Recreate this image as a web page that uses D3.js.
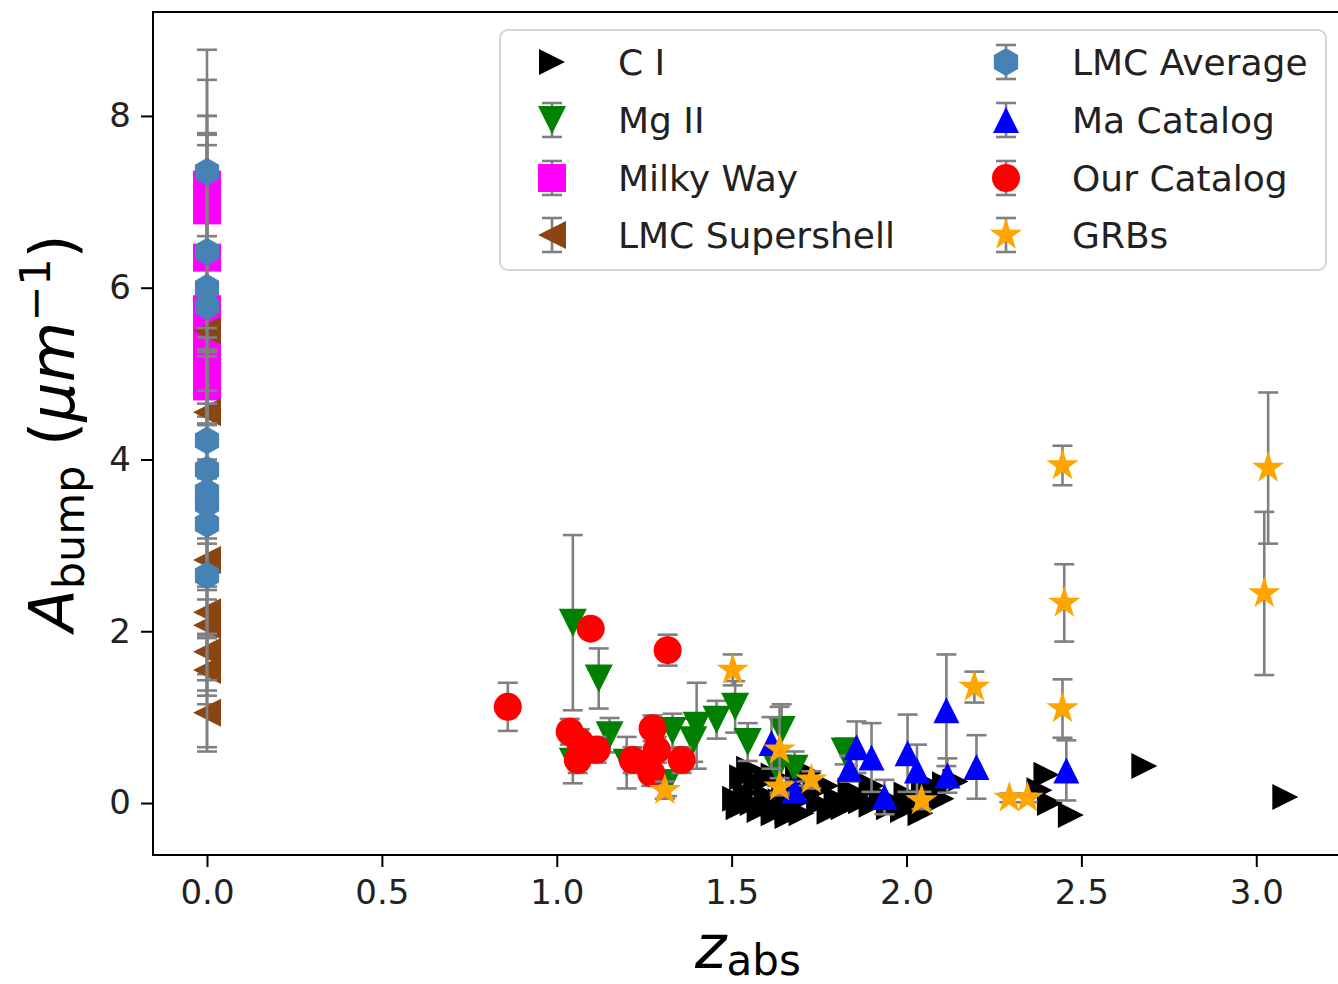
<!DOCTYPE html>
<html>
<head>
<meta charset="utf-8">
<script src="https://cdn.jsdelivr.net/npm/d3@7"></script>
<style>
  body { margin: 0; background: #fff; }
  text { font-family: 'DejaVu Sans', sans-serif; }
</style>
</head>
<body>
<div id="chart"></div>
<script>
// ---- data ----
const ciZ = [1.51, 1.52, 1.54, 1.56, 1.55, 1.58, 1.60, 1.62, 1.64, 1.66, 1.68, 1.71, 1.74, 1.77, 1.80, 1.82, 1.84, 1.87, 1.90, 1.93, 1.96, 1.99, 2.02, 2.05, 2.08, 2.11, 2.14, 1.62, 1.72,
  1.53, 1.57, 1.60, 1.65, 1.69, 1.75, 1.78, 1.86, 1.90, 1.95, 2.00, 2.04, 2.10, 1.62, 1.66, 1.70,
  2.40, 2.38, 2.41, 2.47, 2.68, 3.083]
const ciA = [0.05, -0.05, 0.12, 0.0, 0.40, -0.08, 0.08, -0.12, 0.02, -0.10, 0.0, 0.12, 0.25, 0.20, 0.05, -0.05, 0.15, 0.02, -0.02, 0.08, 0.0, -0.08, 0.02, 0.15, 0.18, 0.22, 0.25, 0.32, 0.35,
  0.30, 0.25, 0.30, 0.15, 0.30, 0.0, -0.10, 0.10, 0.20, -0.05, 0.10, -0.12, 0.05, -0.02, -0.15, -0.12,
  0.33, 0.15, 0.0, -0.14, 0.43, 0.07]

const mg2Z = [1.046, 1.12, 1.151, 1.046, 1.20, 1.315, 1.331, 1.40, 1.39, 1.457, 1.51, 1.546, 1.643, 1.63, 1.68, 1.823]
const mg2A = [2.10, 1.45, 0.79, 0.48, 0.47, 0.23, 0.84, 0.90, 0.73, 0.97, 1.12, 0.71, 0.85, 0.40, 0.40, 0.60]
const mg2Err = [1.02, 0.35, 0.20, 0.25, 0.30, 0.15, 0.20, 0.50, 0.25, 0.22, 0.30, 0.22, 0.30, 0.20, 0.20, 0.15]

const mwZ = [0, 0, 0, 0, 0, 0, 0, 0, 0, 0]
const mwA = [7.20, 7.00, 6.90, 6.35, 5.75, 5.55, 5.35, 5.15, 4.95, 4.85]
const mwErr = [0.60, 0.66, 1.10, 0.50, 0.50, 0.40, 0.50, 0.40, 0.45, 0.45]

const shellZ = [0, 0, 0, 0, 0, 0, 0, 0]
const shellA = [5.50, 4.55, 2.83, 2.22, 2.07, 1.76, 1.55, 1.05]
const shellErr = [0.30, 0.25, 0.25, 0.30, 0.30, 0.45, 0.40, 0.45]

const lmcZ = [0, 0, 0, 0, 0, 0, 0, 0, 0, 0]
const lmcA = [7.35, 6.42, 6.00, 5.78, 4.22, 3.88, 3.62, 3.48, 3.25, 2.65]
const lmcErr = [1.42, 2.00, 2.00, 2.00, 1.20, 1.40, 1.65, 2.05, 2.00, 2.00]

const maZ = [1.614, 1.68, 1.857, 1.837, 1.90, 1.937, 2.003, 2.03, 2.114, 2.117, 2.20, 2.457]
const maA = [0.70, 0.15, 0.65, 0.40, 0.53, 0.07, 0.58, 0.38, 1.08, 0.32, 0.42, 0.38]
const maErr = [0.30, 0.10, 0.30, 0.15, 0.40, 0.20, 0.45, 0.30, 0.65, 0.20, 0.37, 0.35]

const ourZ = [0.86, 1.037, 1.066, 1.06, 1.114, 1.097, 1.217, 1.274, 1.286, 1.27, 1.317, 1.357]
const ourA = [1.12, 0.83, 0.71, 0.50, 0.62, 2.03, 0.50, 0.87, 0.62, 0.35, 1.78, 0.50]
const ourErr = [0.28, 0.15, 0.15, 0.15, 0.15, 0.08, 0.15, 0.15, 0.15, 0.15, 0.18, 0.15]

const grbZ = [1.309, 1.503, 1.637, 1.637, 1.728, 2.043, 2.194, 2.294, 2.346, 2.446, 2.451, 2.446, 3.034, 3.023]
const grbA = [0.15, 1.55, 0.62, 0.19, 0.27, 0.03, 1.35, 0.06, 0.06, 3.93, 2.33, 1.10, 3.90, 2.44]
const grbErr = [0.10, 0.18, 0.50, 0.10, 0.10, 0.10, 0.18, 0.05, 0.05, 0.23, 0.45, 0.34, 0.88, 0.95]

const xTicks = [0, 0.5, 1.0, 1.5, 2.0, 2.5, 3.0]
const yTicks = [0, 2, 4, 6, 8]

// series in drawing order (= legend order)
const series = [
  { name: 'C I', color: 'black', marker: 'tri_right', size: 26, z: ciZ, a: ciA, err: null },
  { name: 'Mg II', color: 'green', marker: 'tri_down', size: 28, z: mg2Z, a: mg2A, err: mg2Err },
  { name: 'Milky Way', color: 'magenta', marker: 'square', size: 28, z: mwZ, a: mwA, err: mwErr },
  { name: 'LMC Supershell', color: 'saddlebrown', marker: 'tri_left', size: 28, z: shellZ, a: shellA, err: shellErr },
  { name: 'LMC Average', color: 'steelblue', marker: 'hexagon', size: 28, z: lmcZ, a: lmcA, err: lmcErr },
  { name: 'Ma Catalog', color: 'blue', marker: 'tri_up', size: 26, z: maZ, a: maA, err: maErr },
  { name: 'Our Catalog', color: 'red', marker: 'circle', size: 28, z: ourZ, a: ourA, err: ourErr },
  { name: 'GRBs', color: 'orange', marker: 'star', size: 34, z: grbZ, a: grbA, err: grbErr }
]

// ---- layout ----
const W = 1338, H = 984
const plot = { left: 153, top: 12, right: 1343, bottom: 855 }

const svg = d3.select('#chart').append('svg')
  .attr('width', W).attr('height', H)

const x = d3.scaleLinear().domain([-0.1544, 3.248]).range([plot.left, plot.right])
const y = d3.scaleLinear().domain([-0.605, 9.21]).range([plot.bottom, plot.top])

// matplotlib-like marker outlines, ms = marker size in px
function markerPath(type, ms) {
  const r = ms / 2
  if (type === 'circle') {
    const p = d3.path(); p.arc(0, 0, r, 0, 2 * Math.PI); p.closePath(); return p.toString()
  }
  if (type === 'square') return `M${-r},${-r}h${ms}v${ms}h${-ms}Z`
  if (type === 'tri_up') return `M0,${-r}L${r},${r}L${-r},${r}Z`
  if (type === 'tri_down') return `M0,${r}L${r},${-r}L${-r},${-r}Z`
  if (type === 'tri_left') return `M${-r},0L${r},${-r}L${r},${r}Z`
  if (type === 'tri_right') return `M${r},0L${-r},${-r}L${-r},${r}Z`
  if (type === 'hexagon') {
    const pts = d3.range(6).map(k => {
      const t = -Math.PI / 2 + k * Math.PI / 3
      return [r * Math.cos(t), r * Math.sin(t)]
    })
    return 'M' + pts.join('L') + 'Z'
  }
  if (type === 'star') {
    const pts = d3.range(10).map(k => {
      const t = -Math.PI / 2 + k * Math.PI / 5
      const rr = k % 2 === 0 ? r : r * 0.381966
      return [rr * Math.cos(t), rr * Math.sin(t)]
    })
    return 'M' + pts.join('L') + 'Z'
  }
}

const errColor = 'gray'
const capHalf = 10

svg.append('defs').append('clipPath').attr('id', 'clip')
  .append('rect')
  .attr('x', plot.left).attr('y', plot.top)
  .attr('width', plot.right - plot.left).attr('height', plot.bottom - plot.top)

const gData = svg.append('g').attr('clip-path', 'url(#clip)')

series.forEach(s => {
  const rows = s.z.map((z, i) => ({ z: z, a: s.a[i], e: s.err ? s.err[i] : null }))
  const g = gData.append('g')
  if (s.err) {
    const eb = g.selectAll('g.eb').data(rows).enter().append('g')
      .attr('stroke', errColor).attr('stroke-width', 2.6)
    eb.append('line')
      .attr('x1', d => x(d.z)).attr('x2', d => x(d.z))
      .attr('y1', d => y(d.a - d.e)).attr('y2', d => y(d.a + d.e))
    eb.append('line')
      .attr('x1', d => x(d.z) - capHalf).attr('x2', d => x(d.z) + capHalf)
      .attr('y1', d => y(d.a + d.e)).attr('y2', d => y(d.a + d.e))
    eb.append('line')
      .attr('x1', d => x(d.z) - capHalf).attr('x2', d => x(d.z) + capHalf)
      .attr('y1', d => y(d.a - d.e)).attr('y2', d => y(d.a - d.e))
  }
  g.selectAll('path.mk').data(rows).enter().append('path')
    .attr('class', 'mk')
    .attr('d', markerPath(s.marker, s.size))
    .attr('transform', d => `translate(${x(d.z)},${y(d.a)})`)
    .attr('fill', s.color)
})

// ---- axes ----
const xAxis = svg.append('g')
  .attr('transform', `translate(0,${plot.bottom})`)
  .call(d3.axisBottom(x).tickValues(xTicks).tickFormat(d3.format('.1f')).tickSize(12).tickPadding(13))
xAxis.select('.domain').remove()
xAxis.selectAll('line').attr('stroke-width', 2)
xAxis.selectAll('text').attr('font-size', 34).attr('fill', '#222')

const yAxis = svg.append('g')
  .attr('transform', `translate(${plot.left},0)`)
  .call(d3.axisLeft(y).tickValues(yTicks).tickFormat(d3.format('d')).tickSize(12).tickPadding(10))
yAxis.select('.domain').remove()
yAxis.selectAll('line').attr('stroke-width', 2)
yAxis.selectAll('text').attr('font-size', 34).attr('fill', '#222')

// spines
svg.append('rect')
  .attr('x', plot.left).attr('y', plot.top)
  .attr('width', plot.right - plot.left).attr('height', plot.bottom - plot.top)
  .attr('fill', 'none').attr('stroke', 'black').attr('stroke-width', 2)

// axis labels
const xl = svg.append('text')
  .attr('x', 748).attr('y', 968)
  .attr('text-anchor', 'middle').attr('font-size', 60)
xl.append('tspan').attr('font-style', 'italic').text('z')
xl.append('tspan').attr('font-size', 42).attr('dy', 7).text('abs')

const yl = svg.append('text')
  .attr('transform', 'translate(74,433) rotate(-90)')
  .attr('text-anchor', 'middle').attr('font-size', 62)
yl.append('tspan').attr('font-style', 'italic').text('A')
yl.append('tspan').attr('font-size', 43).attr('dy', 10).text('bump')
yl.append('tspan').attr('dy', -10).text(' (')
yl.append('tspan').attr('font-style', 'italic').text('μm')
yl.append('tspan').attr('font-size', 43).attr('dy', -24).text('−1')
yl.append('tspan').attr('dy', 24).text(')')

// ---- legend ----
const lg = svg.append('g')
lg.append('rect')
  .attr('x', 500).attr('y', 30).attr('width', 826).attr('height', 240).attr('rx', 8)
  .attr('fill', 'white').attr('fill-opacity', 0.8)
  .attr('stroke', '#d5d5d5').attr('stroke-width', 2)

const colX = [552, 1006]
const rowY = [62, 120, 178, 235]
series.forEach((s, i) => {
  const cx = colX[Math.floor(i / 4)]
  const cy = rowY[i % 4]
  const item = lg.append('g').attr('transform', `translate(${cx},${cy})`)
  if (s.err) {
    const e = item.append('g').attr('stroke', errColor).attr('stroke-width', 2.6)
    e.append('line').attr('x1', 0).attr('x2', 0).attr('y1', -17).attr('y2', 17)
    e.append('line').attr('x1', -capHalf).attr('x2', capHalf).attr('y1', -17).attr('y2', -17)
    e.append('line').attr('x1', -capHalf).attr('x2', capHalf).attr('y1', 17).attr('y2', 17)
  }
  item.append('path').attr('d', markerPath(s.marker, s.size)).attr('fill', s.color)
  item.append('text')
    .attr('x', 66).attr('y', 13)
    .attr('font-size', 36).attr('fill', '#222')
    .text(s.name)
})
</script>
</body>
</html>
